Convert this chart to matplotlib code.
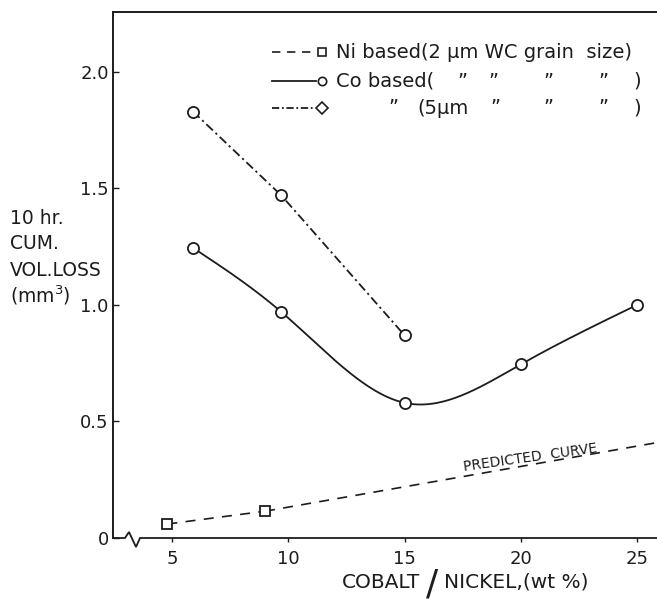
import numpy as np
import matplotlib
matplotlib.use("Agg")
import matplotlib.pyplot as plt
from matplotlib.lines import Line2D

# Wear data: 10 hr cumulative volume loss (mm^3) vs binder content (wt %)
ni_x = [4.8, 9.0]
ni_y = [0.06, 0.115]

pred_x = [9.0, 25.9]
pred_y = [0.115, 0.41]

co2_x = [5.9, 9.7, 15.0, 20.0, 25.0]
co2_y = [1.245, 0.97, 0.58, 0.745, 1.00]

co5_x = [5.9, 9.7, 15.0]
co5_y = [1.83, 1.47, 0.87]

x_ticks = [5, 10, 15, 20, 25]
y_ticks = [0, 0.5, 1.0, 1.5, 2.0]
y_tick_labels = ["0", "0.5", "1.0", "1.5", "2.0"]

INK = "#1c1c1c"
W, H = 657, 603


def px(x, y):
    """Pixel position (from top-left) to figure fraction."""
    return x / W, 1 - y / H


def natural_spline(x, y, xs):
    x = np.asarray(x, float)
    y = np.asarray(y, float)
    n = len(x)
    h = np.diff(x)
    A = np.zeros((n, n))
    b = np.zeros(n)
    A[0, 0] = A[-1, -1] = 1
    for i in range(1, n - 1):
        A[i, i - 1] = h[i - 1]
        A[i, i] = 2 * (h[i - 1] + h[i])
        A[i, i + 1] = h[i]
        b[i] = 3 * ((y[i + 1] - y[i]) / h[i] - (y[i] - y[i - 1]) / h[i - 1])
    c = np.linalg.solve(A, b)
    bb = (y[1:] - y[:-1]) / h - h * (2 * c[:-1] + c[1:]) / 3
    d = (c[1:] - c[:-1]) / (3 * h)
    idx = np.clip(np.searchsorted(x, xs) - 1, 0, n - 2)
    t = xs - x[idx]
    return y[idx] + bb[idx] * t + c[idx] * t ** 2 + d[idx] * t ** 3


fig = plt.figure(figsize=(W / 100, H / 100), dpi=100)
fig.patch.set_facecolor("white")

left, right, top, bottom = 113, 657, 12, 538
ax = fig.add_axes([left / W, 1 - bottom / H, (right - left) / W, (bottom - top) / H])
ax.set_xlim(2.46, 25.86)
ax.set_ylim(0, 2.257)

for s in ("right", "bottom"):
    ax.spines[s].set_visible(False)
for s in ("left", "top"):
    ax.spines[s].set_color(INK)
    ax.spines[s].set_linewidth(1.4)

# bottom axis with a break near the origin
fx = lambda p: (p - left) / (right - left)
fy = lambda p: (bottom - p) / (bottom - top)
bx = [fx(113), fx(125), fx(129), fx(136), fx(140), 1.0]
by = [fy(538), fy(538), fy(532), fy(547), fy(538), fy(538)]
ax.plot(bx, by, transform=ax.transAxes, color=INK, lw=1.3, clip_on=False,
        solid_joinstyle="miter")

ax.set_xticks(x_ticks)
ax.set_xticklabels([str(v) for v in x_ticks])
ax.set_yticks(y_ticks)
ax.set_yticklabels(y_tick_labels)
ax.tick_params(axis="y", direction="in", length=4, width=1, pad=3,
               labelsize=13, colors=INK)
ax.tick_params(axis="x", direction="out", length=3, width=1, pad=6,
               labelsize=13, colors=INK)

mk = dict(markersize=8, markerfacecolor="white", markeredgecolor=INK,
          markeredgewidth=1.3)

# Ni based, 2 um
ax.plot(ni_x, ni_y, color=INK, lw=1.2, ls=(0, (6, 5)), marker="s",
        markersize=7, markerfacecolor="white", markeredgecolor=INK,
        markeredgewidth=1.3, zorder=3)
ax.plot(pred_x, pred_y, color=INK, lw=1.2, ls=(0, (6, 5)), zorder=2)

# Co based, 2 um (smooth curve through the points)
xs = np.linspace(co2_x[0], co2_x[-1], 300)
ax.plot(xs, natural_spline(co2_x, co2_y, xs), color=INK, lw=1.3, zorder=2)
ax.plot(co2_x, co2_y, ls="none", marker="o", zorder=3, **mk)

# Co based, 5 um
ax.plot(co5_x, co5_y, color=INK, lw=1.3, ls=(0, (5, 2, 1.2, 2)), zorder=2)
ax.plot(co5_x, co5_y, ls="none", marker="o", zorder=3, **mk)

# label along the predicted line
ax.text(20.4, 0.345, "PREDICTED  CURVE", rotation=8, fontsize=10,
        color=INK, ha="center", va="center", rotation_mode="anchor")

# legend, drawn piece by piece
fs = 14
rows = [52, 81, 108]
fig.add_artist(Line2D([px(272, 0)[0], px(314, 0)[0]], [px(0, rows[0])[1]] * 2,
                      color=INK, lw=1.2, ls=(0, (5, 4))))
fig.add_artist(Line2D([px(322, 0)[0]], [px(0, rows[0])[1]], marker="s",
                      markersize=6, markerfacecolor="white",
                      markeredgecolor=INK, markeredgewidth=1.2))
fig.add_artist(Line2D([px(272, 0)[0], px(316, 0)[0]], [px(0, rows[1])[1]] * 2,
                      color=INK, lw=1.3))
fig.add_artist(Line2D([px(322, 0)[0]], [px(0, rows[1])[1]], marker="o",
                      markersize=6, markerfacecolor="white",
                      markeredgecolor=INK, markeredgewidth=1.2))
fig.add_artist(Line2D([px(272, 0)[0], px(314, 0)[0]], [px(0, rows[2])[1]] * 2,
                      color=INK, lw=1.3, ls=(0, (4, 1.5, 1, 1.5))))
fig.add_artist(Line2D([px(322, 0)[0]], [px(0, rows[2])[1]], marker="D",
                      markersize=6, markerfacecolor="white",
                      markeredgecolor=INK, markeredgewidth=1.2))

fig.text(*px(336, rows[0]), "Ni based(2\u00a0\u03bcm WC grain  size)",
         fontsize=fs, color=INK, va="center", ha="left")
fig.text(*px(336, rows[1]), "Co based(", fontsize=fs, color=INK,
         va="center", ha="left")
for xx in (462, 493, 548, 603):
    fig.text(*px(xx, rows[1]), "\u201d", fontsize=fs, color=INK,
             va="center", ha="center")
fig.text(*px(637, rows[1]), ")", fontsize=fs, color=INK, va="center",
         ha="center")
fig.text(*px(393, rows[2]), "\u201d", fontsize=fs, color=INK, va="center",
         ha="center")
fig.text(*px(417, rows[2]), "(5\u03bcm", fontsize=fs, color=INK,
         va="center", ha="left")
for xx in (495, 548, 603):
    fig.text(*px(xx, rows[2]), "\u201d", fontsize=fs, color=INK,
             va="center", ha="center")
fig.text(*px(637, rows[2]), ")", fontsize=fs, color=INK, va="center",
         ha="center")

# y-axis title
for yy, s in zip((218, 243, 270, 295), ("10 hr.", "CUM.", "VOL.LOSS", "(mm$^3$)")):
    fig.text(*px(10, yy), s, fontsize=13.5, color=INK, va="center", ha="left")

# x-axis title, with an oversized slash
fig.text(*px(420, 582), "COBALT", fontsize=14.5, color=INK,
         va="center", ha="right")
fig.text(*px(432, 584), "/", fontsize=26, color=INK,
         va="center", ha="center")
fig.text(*px(444, 582), "NICKEL,(wt %)", fontsize=14.5, color=INK,
         va="center", ha="left")

fig.savefig("out.png", dpi=100, facecolor="white")
